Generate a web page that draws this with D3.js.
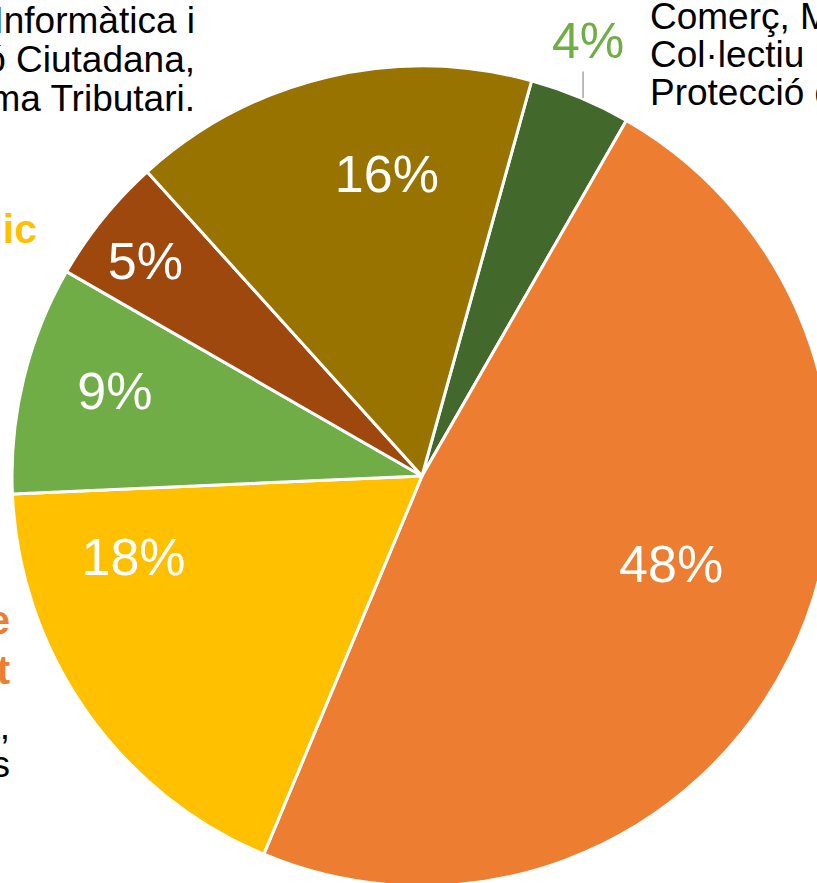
<!DOCTYPE html>
<html>
<head>
<meta charset="utf-8">
<script src="https://cdn.jsdelivr.net/npm/d3@7/dist/d3.min.js"></script>
<style>
  html, body { margin: 0; padding: 0; background: #fff; }
  svg { display: block; }
  text { font-family: "Liberation Sans", Arial, sans-serif; }
</style>
</head>
<body>
<svg id="chart" width="817" height="883"></svg>
<script>
// ---- data ----
const categories = ["Comerç", "Ecologia", "Espai Públic", "Drets", "Cultura", "Informàtica"];
const values = [4, 48, 18, 9, 5, 16];
const colors = ["#43682B", "#ED7D31", "#FFC000", "#70AD47", "#9E480E", "#997300"];
const labelTexts = ["4%", "48%", "18%", "9%", "5%", "16%"];

// label layout: position within slice (0..1) and radius factor
const labelT = [0.37, 0.46, 0.80, 0.56, 0.45, 0.616];
const labelRF = [1.139, 0.644, 0.73, 0.778, 0.856, 0.744];
const labelColors = ["#70AD47", "#fff", "#fff", "#fff", "#fff", "#fff"];

const svg = d3.select("#chart");
svg.append("rect").attr("width", 817).attr("height", 883).attr("fill", "#fff");

const cx = 422, cy = 476, R = 410;
const deg = Math.PI / 180;
const start = 15.5 * deg;

const pie = d3.pie().sort(null).value(d => d).startAngle(start).endAngle(start + 2 * Math.PI);
const arcs = pie(values);
const arc = d3.arc().innerRadius(0).outerRadius(R);

const g = svg.append("g").attr("transform", `translate(${cx},${cy})`);

g.selectAll("path.slice").data(arcs).join("path")
  .attr("class", "slice")
  .attr("d", arc)
  .attr("fill", (d, i) => colors[i])
  .attr("stroke", "#fff")
  .attr("stroke-width", 3)
  .attr("stroke-linejoin", "round");

function polar(a, r) { return [r * Math.sin(a), -r * Math.cos(a)]; }

// leader line for the outside label (first slice)
{
  const d = arcs[0];
  const a = d.startAngle + (d.endAngle - d.startAngle) * 0.53;
  const [x0, y0] = polar(a, R);
  const la = d.startAngle + (d.endAngle - d.startAngle) * labelT[0];
  const [, ly] = polar(la, R * labelRF[0]);
  g.append("line")
    .attr("x1", x0).attr("y1", y0 - 1)
    .attr("x2", x0).attr("y2", ly + 32)
    .attr("stroke", "#A6A6A6").attr("stroke-width", 1.5);
}

g.selectAll("text.pct").data(arcs).join("text")
  .attr("class", "pct")
  .attr("transform", (d, i) => {
    const a = d.startAngle + (d.endAngle - d.startAngle) * labelT[i];
    const [x, y] = polar(a, R * labelRF[i]);
    return `translate(${x},${y})`;
  })
  .attr("text-anchor", "middle")
  .attr("dy", "0.36em")
  .attr("font-size", (d, i) => i === 0 ? 50 : 52)
  .attr("fill", (d, i) => labelColors[i])
  .text((d, i) => labelTexts[i]);

// ---- category text blocks (cropped by the frame) ----
const blockTopLeft = ["Sistemes d'Informàtica i", "Participació Ciutadana,", "Sistema Tributari."];
const blockTopRight = ["Comerç, Mercats,", "Col·lectiu LGTBI,", "Protecció de Dades"];
const blockYellow = ["Espai Públic"];
const blockOrange = ["Ecologia, Urbanisme", "i Mobilitat"];
const blockBlack = ["Medi Ambient, Energia,", "Serveis Urbans i Habitatges"];

function block(lines, x, y0, lh, anchor, size, weight, fill) {
  const t = svg.append("text")
    .attr("text-anchor", anchor)
    .attr("font-size", size)
    .attr("font-weight", weight)
    .attr("fill", fill);
  lines.forEach((s, i) => {
    t.append("tspan").attr("x", x).attr("y", y0 + i * lh).text(s);
  });
}

block(blockTopLeft, 195, 33, 39, "end", 37, "normal", "#000");
block(blockTopRight, 650, 29, 38, "start", 37, "normal", "#000");
block(blockYellow, 37, 243, 39, "end", 41, "bold", "#FFC000");
block(blockOrange, 10, 634, 50, "end", 40, "bold", "#ED7D31");
block(blockBlack, 10, 739, 38, "end", 37, "normal", "#000");
</script>
</body>
</html>
